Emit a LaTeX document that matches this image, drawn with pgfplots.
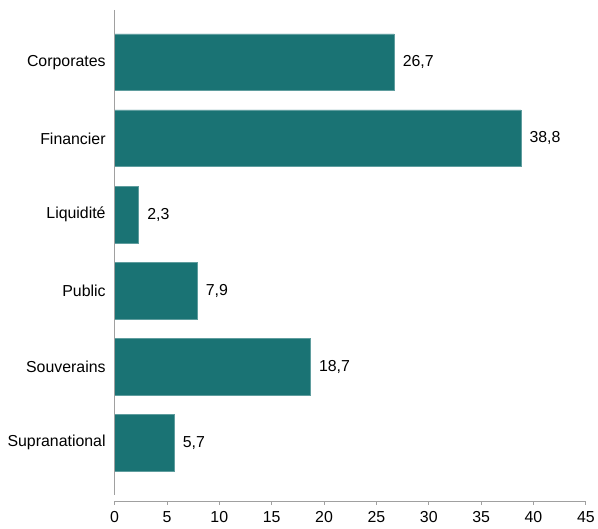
\documentclass[border=0pt]{standalone}
\usepackage{fontspec}
\setmainfont{Liberation Sans}
\usepackage{pgfplots}
\pgfplotsset{compat=1.18}
\definecolor{barteal}{RGB}{26,115,116}
\definecolor{axisgray}{RGB}{160,160,160}
\begin{document}
\begin{tikzpicture}
\begin{axis}[
  name=ax,
  scale only axis,
  width=473bp, height=493bp,
  xbar, bar width=0.746,
  xmin=0, xmax=45,
  ymin=-0.687, ymax=5.766,
  y dir=reverse,
  axis x line=bottom, axis y line=left,
  axis line style={axisgray, line width=0.8pt, -},
  y axis line style={draw=none},
  xtick={0,5,...,45},
  ytick={0,1,2,3,4,5},
  yticklabels={Corporates,Financier,Liquidité,Public,Souverains,Supranational},
  y tick style={draw=none},
  x tick style={axisgray, line width=0.8pt},
  major tick length=3.5bp,
  tick align=outside,
  ticklabel style={font=\fontsize{16}{19}\selectfont, black},
  xticklabel style={yshift=-3bp},
  /pgf/number format/assume math mode=true,
  yticklabel style={xshift=-2bp},
  nodes near coords,
  nodes near coords align={horizontal},
  every node near coord/.append style={font=\fontsize{16}{19}\selectfont, black, xshift=5bp,
    /pgf/number format/.cd, fixed, fixed zerofill, precision=1, use comma, assume math mode=true},
  clip=false,
]
\addplot[fill=barteal, draw=barteal!70!white, line width=0.6pt] coordinates {
  (26.7,0) (38.8,1) (2.3,2) (7.9,3) (18.7,4) (5.7,5)
};
\draw[axisgray, line width=0.8pt] (axis cs:0,-0.687) -- (axis cs:0,5.69);
\end{axis}
\path ([xshift=-115bp,yshift=10bp]ax.north west) rectangle ([xshift=10bp,yshift=-27bp]ax.south east);
\end{tikzpicture}
\end{document}
